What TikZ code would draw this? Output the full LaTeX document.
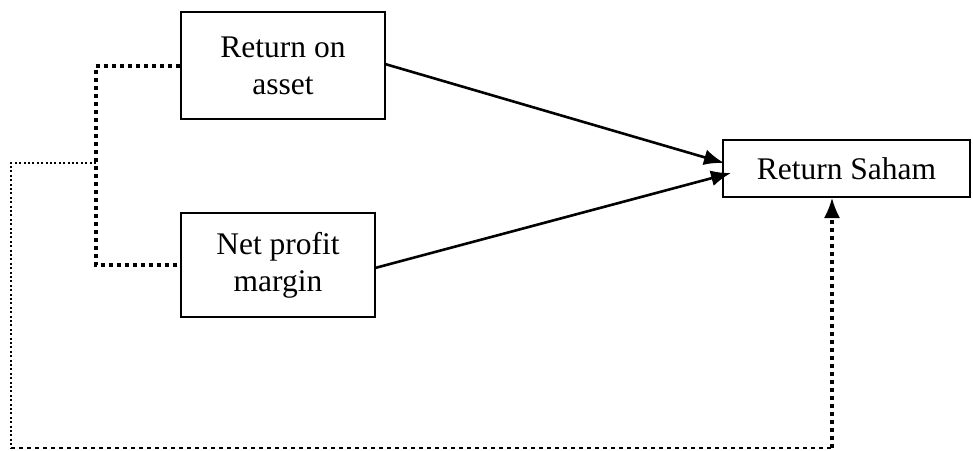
\documentclass[tikz,border=0pt]{standalone}
\usepackage{fontspec}
\setmainfont{Liberation Serif}
\usetikzlibrary{arrows.meta,calc}
\begin{document}
\begin{tikzpicture}[x=1pt,y=-1pt,
  box/.style={draw,line width=2pt,rectangle,inner sep=0pt,align=center,
    font=\fontsize{31.5}{37}\selectfont},
  tip/.style={-{Latex[length=20pt,width=16pt]}},
  arr/.style={line width=2.6pt,tip},
  thickdot/.style={line width=4pt,dash pattern=on 4pt off 4pt},
  thindot/.style={line width=2pt,dash pattern=on 2pt off 2.4pt},
  meddot/.style={line width=2.6pt,dash pattern=on 4pt off 4pt}]
\useasboundingbox (0,0) rectangle (973,450);
\node[box,minimum width=204pt,minimum height=107pt] (roa) at (283,65.5) {Return on\\asset};
\node[box,minimum width=194pt,minimum height=104pt] (npm) at (278,265) {Net profit\\margin};
\node[box,minimum width=247pt,minimum height=57pt] (rs) at (846.5,168.5) {Return Saham};
\coordinate (s1) at (385,64);
\coordinate (t1) at (724,163);
\coordinate (s2) at (375,268);
\coordinate (t2) at (731,173);
\coordinate (bx) at (96,163);
\coordinate (lx) at (11,163);
\coordinate (lb) at (11,448);
\coordinate (rb) at (832,448);
\coordinate (rt) at (832,198);
\draw[arr] (s1) -- (t1);
\draw[arr] (s2) -- (t2);
\draw[thickdot] (roa.west) -| (bx) |- (npm.west);
\draw[thindot] (bx) -- (lx) -- (lb);
\draw[meddot] (lb) -- (rb);
\draw[thickdot] (rb) -- ($(rt)+(0,18)$);
\draw[line width=2pt,tip] ($(rt)+(0,19)$) -- (rt);
\end{tikzpicture}
\end{document}
